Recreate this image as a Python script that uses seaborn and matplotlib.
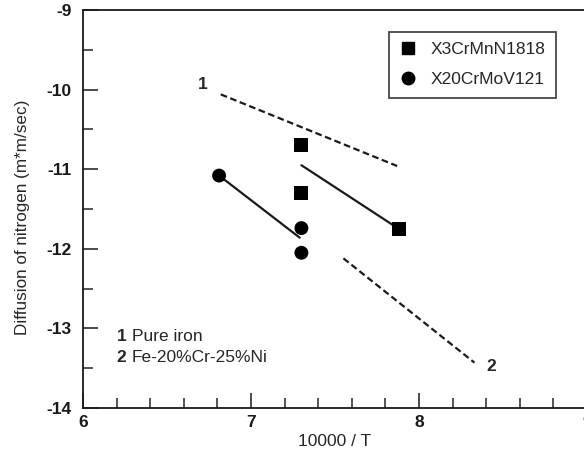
import matplotlib
matplotlib.use("Agg")
import matplotlib.pyplot as plt
from matplotlib.ticker import MultipleLocator
from matplotlib.lines import Line2D
import seaborn as sns
import pandas as pd

# Measured diffusion points (x = 10000/T, y = log10 D)
steel_names = ["X3CrMnN1818", "X3CrMnN1818", "X3CrMnN1818",
               "X20CrMoV121", "X20CrMoV121", "X20CrMoV121"]
inv_temp = [7.3, 7.3, 7.88, 6.81, 7.3, 7.3]
log_diff = [-10.7, -11.3, -11.75, -11.08, -11.74, -12.05]

# Fitted trend lines through each steel's points
fit_x3_x = [7.3, 7.88]
fit_x3_y = [-10.95, -11.75]
fit_x20_x = [6.81, 7.29]
fit_x20_y = [-11.08, -11.86]

# Literature curves: 1 pure iron, 2 Fe-20%Cr-25%Ni
ref1_x = [6.82, 7.87]
ref1_y = [-10.06, -10.96]
ref2_x = [7.55, 8.33]
ref2_y = [-12.12, -13.43]

sns.set_style("ticks")
plt.rcParams["font.family"] = ["Liberation Sans", "DejaVu Sans"]
plt.rcParams["axes.unicode_minus"] = False

fig = plt.figure(figsize=(5.84, 4.58), dpi=100)
ax = fig.add_axes([83 / 584, 1 - 408 / 458, 504 / 584, 398 / 458])

df = pd.DataFrame({"steel": steel_names, "x": inv_temp, "y": log_diff})
sns.scatterplot(data=df, x="x", y="y", style="steel",
                markers={"X3CrMnN1818": "s", "X20CrMoV121": "o"},
                color="black", s=100, edgecolor="black", linewidth=0,
                legend=False, ax=ax, zorder=3)

sns.lineplot(x=fit_x3_x, y=fit_x3_y, color="#1a1a1a", lw=1.6, ax=ax)
sns.lineplot(x=fit_x20_x, y=fit_x20_y, color="#1a1a1a", lw=1.6, ax=ax)
for xs, ys in [(ref1_x, ref1_y), (ref2_x, ref2_y)]:
    ax.plot(xs, ys, color="#1a1a1a", lw=1.6, dashes=(3, 1.6))

ax.text(6.71, -9.94, "1", fontsize=12.5, fontweight="bold", ha="center", va="center")
ax.text(8.43, -13.48, "2", fontsize=12.5, fontweight="bold", ha="center", va="center")

ax.text(6.2, -13.1, "1", fontsize=12.5, fontweight="bold", va="center")
ax.text(6.29, -13.1, "Pure iron", fontsize=12.5, va="center")
ax.text(6.2, -13.37, "2", fontsize=12.5, fontweight="bold", va="center")
ax.text(6.29, -13.37, "Fe-20%Cr-25%Ni", fontsize=12.5, va="center")

ax.set_xlim(6, 9)
ax.set_ylim(-14, -9)
ax.xaxis.set_major_locator(MultipleLocator(1))
ax.xaxis.set_minor_locator(MultipleLocator(0.2))
ax.yaxis.set_major_locator(MultipleLocator(1))
ax.yaxis.set_minor_locator(MultipleLocator(0.5))
ax.tick_params(axis="both", which="major", direction="in", length=11, width=1.1,
               labelsize=12.5, colors="#1a1a1a")
ax.tick_params(axis="both", which="minor", direction="in", length=7, width=1.1)
ax.tick_params(axis="x", pad=5)
ax.tick_params(axis="y", pad=8)
for lab in ax.get_xticklabels() + ax.get_yticklabels():
    lab.set_fontweight("bold")
for sp in ax.spines.values():
    sp.set_linewidth(1.3)
    sp.set_color("#1a1a1a")

ax.set_xlabel("10000 / T", fontsize=12.5, labelpad=3)
ax.set_ylabel("Diffusion of nitrogen (m*m/sec)", fontsize=12.3)
ax.yaxis.set_label_coords(-0.105, 0.48)

handles = [
    Line2D([], [], marker="s", color="black", linestyle="none", markersize=9),
    Line2D([], [], marker="o", color="black", linestyle="none", markersize=9),
]
leg = ax.legend(handles, ["X3CrMnN1818", "X20CrMoV121"], loc="upper left",
                bbox_to_anchor=(0.607, 0.945), fontsize=12.5, frameon=True,
                fancybox=False, edgecolor="#1a1a1a", borderpad=0.6,
                labelspacing=0.85, handletextpad=0.8, handlelength=1.0,
                borderaxespad=0)
leg.get_frame().set_linewidth(1.3)

fig.savefig("out.png", dpi=100)
